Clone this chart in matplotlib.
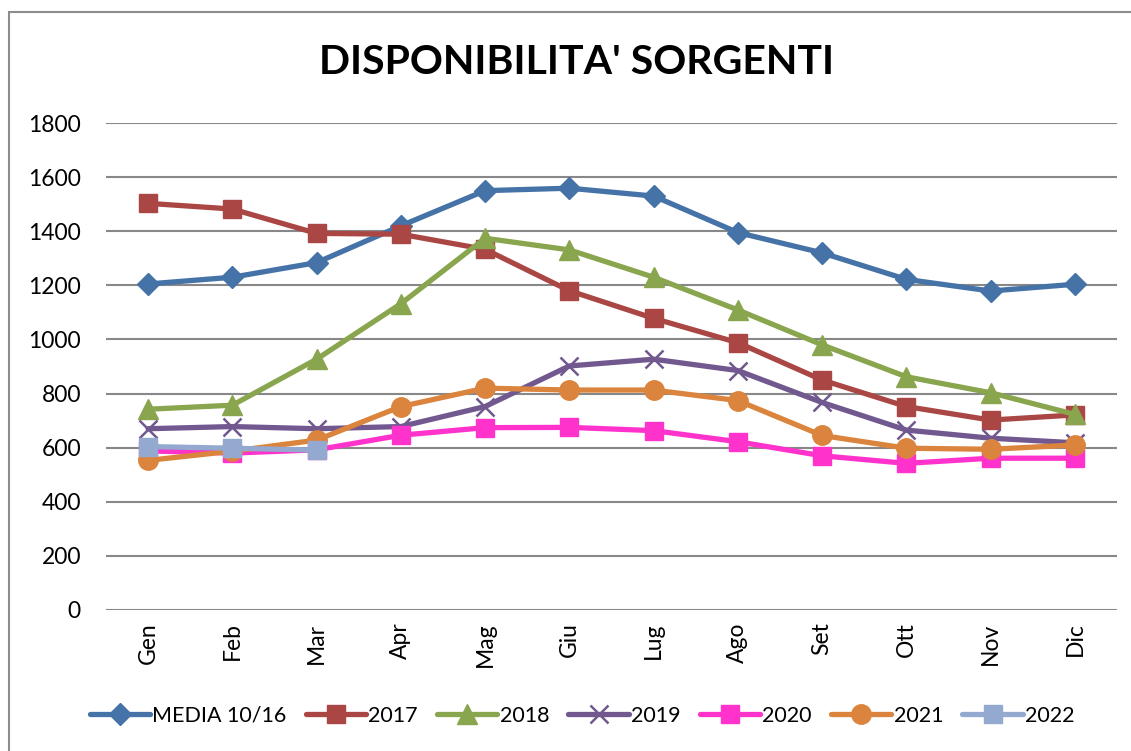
import matplotlib
matplotlib.use("Agg")
import matplotlib.pyplot as plt
from matplotlib.patches import Rectangle

months = ["Gen", "Feb", "Mar", "Apr", "Mag", "Giu", "Lug", "Ago", "Set", "Ott", "Nov", "Dic"]
media_10_16 = [1205, 1230, 1284, 1420, 1550, 1559, 1530, 1395, 1320, 1222, 1179, 1204]
y2017 = [1503, 1482, 1392, 1389, 1333, 1180, 1078, 988, 850, 752, 702, 721]
y2018 = [742, 757, 927, 1132, 1374, 1331, 1230, 1109, 980, 862, 803, 723]
y2019 = [670, 678, 670, 678, 752, 902, 927, 885, 767, 665, 635, 618]
y2020 = [588, 580, 592, 646, 674, 675, 663, 622, 570, 542, 561, 561]
y2021 = [553, 587, 628, 752, 820, 813, 813, 774, 645, 598, 594, 610]
y2022 = [604, 598, 591]
yticks = [0, 200, 400, 600, 800, 1000, 1200, 1400, 1600, 1800]

series = [
    ("MEDIA 10/16", media_10_16, "#4572A7", "D", 11),
    ("2017", y2017, "#AA4643", "s", 13),
    ("2018", y2018, "#89A54E", "^", 14),
    ("2019", y2019, "#71588F", "x", 13),
    ("2020", y2020, "#FF33CC", "s", 13),
    ("2021", y2021, "#DB843D", "o", 14),
    ("2022", y2022, "#93A9CF", "s", 13),
]

plt.rcParams['font.family'] = ['Lato', 'DejaVu Sans']

W, H = 1131, 751
fig = plt.figure(figsize=(W / 100, H / 100), dpi=100)
ax = fig.add_axes([106 / W, 1 - 610 / H, (1117 - 106) / W, (610 - 123) / H])

x = list(range(len(months)))
for name, vals, col, mk, ms in series:
    kw = dict(color=col, lw=3.8, marker=mk, markersize=ms, label=name, solid_capstyle="round")
    if mk == "x":
        kw.update(markeredgewidth=1.8)
    ax.plot(x[:len(vals)], vals, **kw)

ax.set_xlim(-0.5, len(months) - 0.5)
ax.set_ylim(0, 1800)
ax.set_yticks(yticks)
ax.set_yticklabels([str(v) for v in yticks], fontsize=16.5)
ax.set_xticks(x)
ax.set_xticklabels(months, rotation=90, fontsize=16.5)
ax.tick_params(axis="both", length=0)
ax.tick_params(axis="y", pad=18)
ax.tick_params(axis="x", pad=9)
for s in ax.spines.values():
    s.set_visible(False)
ax.yaxis.grid(True, color="#888888", lw=1.5)
ax.set_axisbelow(True)

fig.text(577 / W, 1 - 62 / H, "DISPONIBILITA' SORGENTI", ha="center", va="center",
         fontsize=29.5, fontweight="bold")

leg = fig.legend(loc="center", bbox_to_anchor=(582 / W, 1 - 716 / H), ncol=7, frameon=False,
                 fontsize=15.5, handlelength=2.8, handletextpad=0.1, columnspacing=0.9)

fig.add_artist(Rectangle((9 / W, -0.1), 1.2, 1 - 12 / H + 0.1, transform=fig.transFigure,
                         fill=False, edgecolor="#8c8c8c", lw=1.5))

fig.savefig("out.png", dpi=100)
